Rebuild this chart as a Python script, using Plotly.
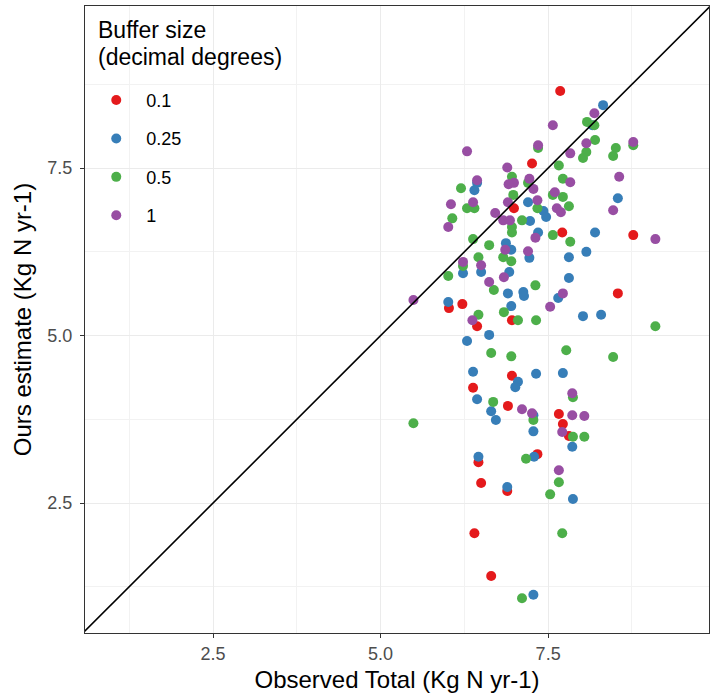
import plotly.graph_objects as go

# Buffer size 0.1
red_x = [7.68, 7.26, 6.99, 7.71, 8.77, 8.54, 6.02, 6.22, 6.44, 6.96, 6.96, 6.38, 6.90, 7.66, 7.72,
         7.81, 7.34, 6.46, 6.50, 6.89, 6.40, 6.65]
red_y = [8.65, 7.57, 6.90, 6.54, 6.50, 5.63, 5.41, 5.47, 5.14, 5.23, 4.40, 4.22, 3.95, 3.83, 3.68,
         3.50, 3.23, 3.11, 2.80, 2.68, 2.05, 1.41]

# Buffer size 0.25
blue_x = [6.44, 6.40, 7.20, 8.32, 8.16, 8.54, 7.43, 7.47, 7.23, 7.35, 8.20, 6.87, 6.95, 7.22, 7.81,
          8.07, 6.23, 6.50, 6.92, 7.81, 6.90, 7.13, 7.14, 7.65, 6.01, 6.95, 8.02, 8.29, 6.29, 6.62,
          6.38, 7.05, 7.01, 6.44, 6.65, 6.72, 7.28, 7.28, 6.46, 7.32, 7.72, 7.86, 7.29, 6.89, 7.28,
          7.87]
blue_y = [7.28, 7.17, 6.99, 8.44, 8.14, 7.05, 6.86, 6.77, 6.71, 6.54, 6.54, 6.38, 6.28, 6.16, 6.17,
          6.25, 5.93, 5.95, 5.95, 5.86, 5.63, 5.65, 5.59, 5.56, 5.50, 5.44, 5.29, 5.31, 4.92, 5.01,
          4.46, 4.31, 4.23, 4.05, 3.87, 3.74, 3.81, 3.57, 3.19, 4.43, 4.44, 3.34, 3.19, 2.74, 1.13,
          2.56]

# Buffer size 0.5
green_x = [6.20, 6.29, 6.40, 6.96, 6.98, 8.08, 8.19, 7.35, 8.20, 8.07, 8.02, 8.51, 8.47, 8.77, 7.66,
           7.72, 7.57, 7.72, 7.81, 7.20, 6.07, 7.11, 7.34, 6.96, 6.96, 6.38, 6.62, 7.57, 7.83, 6.46,
           6.83, 6.95, 6.01, 6.23, 6.69, 7.31, 6.46, 6.84, 7.05, 7.32, 9.10, 7.77, 8.47, 7.87, 8.04,
           7.87, 7.28, 6.65, 6.95, 6.68, 5.49, 7.17, 7.11, 7.66, 7.53, 7.71]
green_y = [7.20, 6.90, 6.90, 7.37, 7.10, 8.19, 8.14, 7.80, 7.92, 7.74, 7.65, 7.80, 7.68, 7.84, 7.54,
           7.34, 7.10, 7.07, 6.93, 7.28, 6.75, 6.72, 6.90, 6.62, 6.54, 6.44, 6.35, 6.50, 6.40, 6.17,
           6.17, 6.11, 5.89, 6.04, 5.68, 5.75, 5.31, 5.35, 5.23, 5.23, 5.14, 4.78, 4.68, 4.08, 3.49,
           3.49, 3.74, 4.74, 4.69, 4.01, 3.69, 3.16, 1.08, 2.81, 2.63, 2.05]

# Buffer size 1
purple_x = [6.29, 6.89, 6.44, 6.05, 6.71, 7.35, 8.07, 7.83, 6.99, 6.91, 7.22, 7.28, 7.60, 7.83, 7.34,
            6.90, 7.63, 6.38, 6.83, 6.93, 7.69, 6.01, 7.57, 8.19, 8.77, 8.56, 8.47, 7.31, 6.86, 7.20,
            6.23, 6.50, 6.84, 6.62, 7.72, 7.53, 9.10, 5.49, 6.37, 7.11, 7.86, 7.86, 8.04, 7.71, 7.66,
            7.26]
purple_y = [7.75, 7.51, 7.32, 6.96, 6.83, 7.84, 7.87, 7.72, 7.28, 7.26, 7.34, 7.19, 7.14, 7.29, 7.02,
            6.99, 6.90, 6.99, 6.72, 6.72, 6.84, 6.62, 8.14, 8.32, 7.89, 7.37, 6.87, 6.46, 6.28, 6.26,
            6.10, 6.05, 5.87, 5.80, 5.63, 5.43, 6.44, 5.53, 5.23, 3.90, 4.14, 3.81, 3.80, 3.56, 2.99,
            3.84]

series_names = ["0.1", "0.25", "0.5", "1"]
series_x = [red_x, blue_x, green_x, purple_x]
series_y = [red_y, blue_y, green_y, purple_y]
colors = ["#E41A1C", "#377EB8", "#4DAF4A", "#984EA3"]
legend_title_lines = ["Buffer size", "(decimal degrees)"]

x_ticks = [2.5, 5.0, 7.5]
x_tick_labels = ["2.5", "5.0", "7.5"]
y_ticks = [2.5, 5.0, 7.5]
y_tick_labels = ["2.5", "5.0", "7.5"]
minor_ticks = [1.25, 3.75, 6.25, 8.75]

fig = go.Figure()
for name, xs, ys, c in zip(series_names, series_x, series_y, colors):
    fig.add_trace(go.Scatter(
        x=xs, y=ys, mode="markers", name=name, legendgroup=name,
        marker=dict(color=c, size=10, line=dict(width=0)),
    ))

fig.add_shape(type="line", x0=0, y0=0, x1=10, y1=10, xref="x", yref="y",
              line=dict(color="black", width=1.6), layer="above")

# legend title (two lines, ggplot-like tight spacing)
for txt, ypos in zip(legend_title_lines, [0.961, 0.918]):
    fig.add_annotation(text=txt, xref="paper", yref="paper", x=0.018, y=ypos,
                       xanchor="left", yanchor="middle", showarrow=False,
                       font=dict(size=23, color="black"))

axis_common = dict(
    showline=True, mirror=True, linecolor="#333333", linewidth=1.2,
    ticks="outside", ticklen=4, tickcolor="#333333", tickwidth=1.2,
    showgrid=True, gridcolor="#EBEBEB", gridwidth=1.2, zeroline=False,
    tickfont=dict(size=18, color="#4D4D4D"),
    minor=dict(tickvals=minor_ticks, showgrid=True, gridcolor="#F2F2F2", gridwidth=0.7, ticks=""),
)

fig.update_layout(
    width=711, height=698,
    margin=dict(l=85, r=2, t=6, b=65),
    paper_bgcolor="white", plot_bgcolor="white",
    font=dict(family="Liberation Sans, Arial, sans-serif", color="black"),
    xaxis=dict(range=[0.59, 9.90], tickvals=x_ticks, ticktext=x_tick_labels,
               title=dict(text="Observed Total (Kg N yr-1)", font=dict(size=24), standoff=8),
               **axis_common),
    yaxis=dict(range=[0.56, 9.92], tickvals=y_ticks, ticktext=y_tick_labels,
               ticklabelstandoff=4,
               title=dict(text="Ours estimate (Kg N yr-1)", font=dict(size=24), standoff=8),
               **axis_common),
    legend=dict(
        x=0.002, y=0.879, xanchor="left", yanchor="top",
        bgcolor="rgba(0,0,0,0)",
        font=dict(size=18),
        tracegroupgap=12,
        itemwidth=50,
    ),
)

fig.write_html("out.html", post_script="document.body.style.margin='0';",
               config={"displayModeBar": False})
